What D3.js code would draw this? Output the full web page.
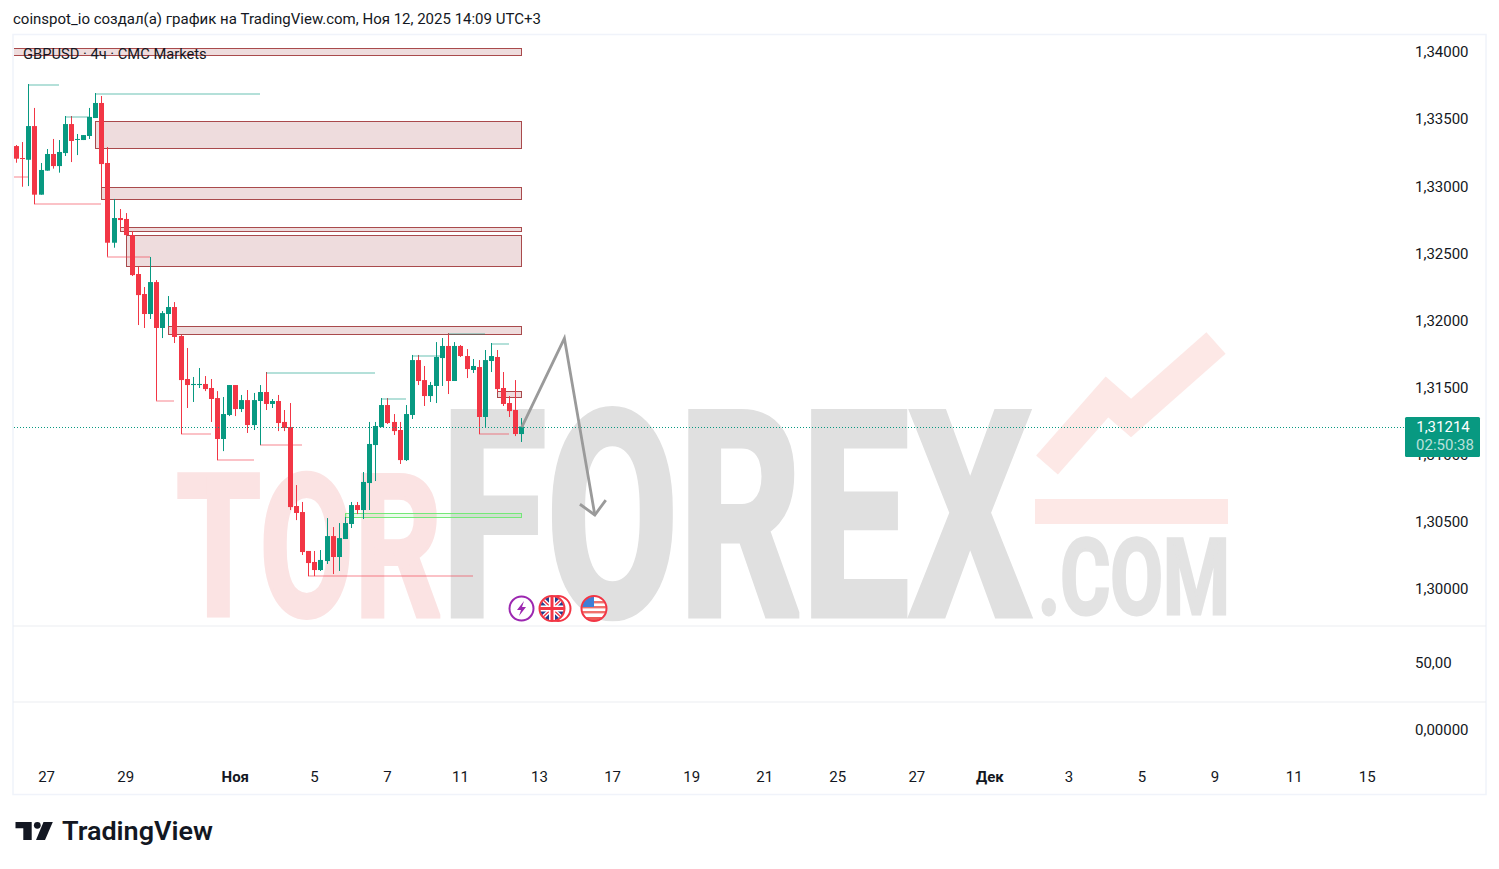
<!DOCTYPE html>
<html><head><meta charset="utf-8">
<script src="https://cdn.jsdelivr.net/npm/d3@7/dist/d3.min.js"></script>
<style>html,body{margin:0;padding:0;background:#fff}svg{display:block}text{font-family:Roboto,sans-serif}</style>
</head><body><div id="c"></div>
<script>
const opens=[1.33303,1.33214,1.33201,1.33452,1.32941,1.33120,1.33244,1.33154,1.33251,1.33467,1.33350,1.33348,1.33378,1.33512,1.33624,1.33177,1.32583,1.32767,1.32760,1.32640,1.32350,1.32201,1.32052,1.32290,1.31948,1.32052,1.32104,1.31888,1.31568,1.31523,1.31523,1.31531,1.31501,1.31426,1.31121,1.31300,1.31523,1.31344,1.31411,1.31225,1.31404,1.31471,1.31382,1.31404,1.31248,1.31210,1.30622,1.30577,1.30287,1.30205,1.30145,1.30212,1.30398,1.30242,1.30376,1.30488,1.30629,1.30592,1.30793,1.31076,1.31210,1.31374,1.31248,1.31188,1.30964,1.31300,1.31709,1.31560,1.31441,1.31516,1.31724,1.31814,1.31553,1.31814,1.31739,1.31635,1.31657,1.31285,1.31702,1.31732,1.31501,1.31389,1.31337,1.31158];
const highs=[1.33311,1.33333,1.33765,1.33587,1.33177,1.33281,1.33356,1.33348,1.33527,1.33527,1.33393,1.33385,1.33587,1.33698,1.33676,1.33296,1.32909,1.32834,1.32804,1.32670,1.32402,1.32253,1.32477,1.32305,1.32074,1.32186,1.32141,1.31896,1.31799,1.31583,1.31650,1.31590,1.31568,1.31478,1.31434,1.31523,1.31523,1.31449,1.31486,1.31464,1.31523,1.31620,1.31419,1.31449,1.31337,1.31389,1.30778,1.30652,1.30287,1.30287,1.30294,1.30532,1.30465,1.30495,1.30540,1.30652,1.30652,1.30875,1.31248,1.31248,1.31426,1.31426,1.31307,1.31248,1.31374,1.31747,1.31747,1.31665,1.31546,1.31843,1.31873,1.31910,1.31843,1.31821,1.31791,1.31717,1.31709,1.31784,1.31836,1.31784,1.31620,1.31441,1.31560,1.31277];
const lows=[1.33179,1.33000,1.33005,1.32871,1.32941,1.33120,1.33135,1.33105,1.33229,1.33184,1.33236,1.33348,1.33356,1.33512,1.32998,1.32479,1.32546,1.32678,1.32633,1.32335,1.31970,1.31948,1.32015,1.31406,1.31873,1.31963,1.31836,1.31158,1.31352,1.31397,1.31501,1.31478,1.31248,1.30964,1.31031,1.31292,1.31292,1.31322,1.31166,1.31188,1.31076,1.31337,1.31352,1.31180,1.31180,1.30592,1.30517,1.30257,1.30100,1.30100,1.30138,1.30190,1.30115,1.30138,1.30376,1.30458,1.30562,1.30525,1.30592,1.30808,1.31210,1.31233,1.31151,1.30935,1.30957,1.31270,1.31523,1.31367,1.31397,1.31389,1.31516,1.31456,1.31553,1.31732,1.31575,1.31613,1.31158,1.31203,1.31620,1.31471,1.31367,1.31285,1.31143,1.31099];
const closes=[1.33209,1.33207,1.33452,1.32941,1.33125,1.33244,1.33154,1.33259,1.33467,1.33341,1.33356,1.33385,1.33520,1.33624,1.33169,1.32583,1.32767,1.32752,1.32640,1.32342,1.32193,1.32052,1.32290,1.31948,1.32059,1.32104,1.31881,1.31560,1.31523,1.31531,1.31531,1.31493,1.31419,1.31121,1.31307,1.31523,1.31344,1.31411,1.31225,1.31411,1.31471,1.31382,1.31404,1.31240,1.31203,1.30614,1.30570,1.30279,1.30197,1.30145,1.30220,1.30398,1.30242,1.30383,1.30495,1.30629,1.30592,1.30801,1.31084,1.31218,1.31374,1.31240,1.31180,1.30964,1.31307,1.31709,1.31553,1.31441,1.31523,1.31732,1.31814,1.31553,1.31814,1.31739,1.31642,1.31665,1.31285,1.31709,1.31739,1.31493,1.31382,1.31329,1.31158,1.31214];

const priceTicks=[1.30,1.305,1.31,1.315,1.32,1.325,1.33,1.335,1.34];
const dateTickIdx=[5,18,36,49,61,73,86,98,111,123,135,148,160,173,185,197,210,222];
const dateTickLabels=["27","29","Ноя","5","7","11","13","17","19","21","25","27","Дек","3","5","9","11","15"];
const lowerTicks=[0,50];
const lowerLabels=["0,00000","50,00"];

// supply / demand zones: start candle, upper price, lower price
const zoneStart=[-3,13,14,17,18,25,79];
const zoneTop=[1.34030,1.33490,1.32998,1.32700,1.32640,1.31963,1.31478];
const zoneBottom=[1.33981,1.33289,1.32909,1.32670,1.32410,1.31903,1.31434];
const greenStart=[54];const greenTop=[1.30570];const greenBottom=[1.30540];
// liquidity lines: start candle, end candle, price
const hiStart=[2,13,8,41,60,65,71,78];
const hiEnd=[7,40,12,59,64,70,77,81];
const hiPrice=[1.33765,1.33698,1.33527,1.31620,1.31426,1.31747,1.31910,1.31836];
const loStart=[-3,3,15,23,27,33,40,48,76];
const loEnd=[2,14,22,26,32,39,47,75,81];
const loPrice=[1.33073,1.32871,1.32479,1.31406,1.31158,1.30964,1.31076,1.30100,1.31158];
// drawn arrow
const arrowIdx=[83,90,95];const arrowPrice=[1.31210,1.31871,1.30555];
const headIdx=[92.55,95,96.8];const headPrice=[1.30635,1.30555,1.30666];
const lastPrice=1.31214;

const W=1499,H=869,UP="#089981",DOWN="#f23645";
const svg=d3.select("#c").append("svg").attr("width",W).attr("height",H).attr("viewBox",`0 0 ${W} ${H}`);
const x=d3.scaleLinear().domain([0,83]).range([16.7,521.8]);
const y=d3.scaleLinear().domain([1.30,1.34]).range([589.5,52.5]);
const yLow=d3.scaleLinear().domain([0,50]).range([729.5,662.5]);
const cx=i=>Math.floor(x(i));

svg.append("text").attr("x",13).attr("y",24).attr("font-size",15).attr("fill","#131722")
  .text("coinspot_io создал(а) график на TradingView.com, Ноя 12, 2025 14:09 UTC+3");

// frame & panes
svg.append("rect").attr("x",13).attr("y",34.5).attr("width",1473).attr("height",760).attr("fill","none").attr("stroke","#f0f3fa").attr("stroke-width",1.5);
[626,702].forEach(v=>svg.append("line").attr("x1",13).attr("x2",1486).attr("y1",v).attr("y2",v).attr("stroke","#ebedf1"));

// watermark
const wm=svg.append("g").attr("font-weight",700);
const wmWord=(t,x0,base,size,len,col,sw)=>wm.append("text").attr("x",x0).attr("y",base).attr("font-size",size)
  .attr("textLength",len).attr("lengthAdjust","spacingAndGlyphs").attr("fill",col).attr("stroke",col).attr("stroke-width",sw).text(t);
wmWord("TOR",176,616,198,266,"#fbe3e3",4);
wmWord("FOREX",441,615,285,590,"#e0e0e0",7);
wmWord(".COM",1038,614,106,192,"#e3e3e3",3);
svg.append("rect").attr("x",1035).attr("y",499).attr("width",193).attr("height",25).attr("fill","#fde8e6");
svg.append("path").attr("d","M1047,465L1107,397L1131,418L1216,343").attr("fill","none").attr("stroke","#fde8e6").attr("stroke-width",29);

const defs=svg.append("defs");
defs.append("clipPath").attr("id","pane").append("rect").attr("x",14).attr("y",35).attr("width",1390).attr("height",590);
const plot=svg.append("g").attr("clip-path","url(#pane)");

// zones
const zi=d3.range(zoneStart.length);
plot.selectAll(".z").data(zi).join("rect").attr("class","z")
  .attr("x",i=>cx(zoneStart[i])+.5).attr("y",i=>Math.round(y(zoneTop[i]))+.5)
  .attr("width",i=>cx(83)-cx(zoneStart[i])).attr("height",i=>Math.round(y(zoneBottom[i]))-Math.round(y(zoneTop[i])))
  .attr("fill","rgba(150,40,45,.16)").attr("stroke","#a94a4c").attr("stroke-width",1);
plot.selectAll(".g").data(d3.range(greenStart.length)).join("rect").attr("class","g")
  .attr("x",i=>cx(greenStart[i])+.5).attr("y",i=>Math.round(y(greenTop[i]))+.5)
  .attr("width",i=>cx(83)-cx(greenStart[i])).attr("height",i=>Math.round(y(greenBottom[i]))-Math.round(y(greenTop[i])))
  .attr("fill","rgba(76,220,80,.12)").attr("stroke","#74e878").attr("stroke-width",1);

// last price line
svg.append("line").attr("x1",14).attr("x2",1405).attr("y1",Math.round(y(lastPrice))+.5).attr("y2",Math.round(y(lastPrice))+.5)
  .attr("stroke",UP).attr("stroke-width",1).attr("stroke-dasharray","1 2");

// candles
const idx=d3.range(opens.length);
const col=i=>closes[i]>=opens[i]?UP:DOWN;
plot.selectAll(".w").data(idx).join("rect").attr("class","w")
  .attr("x",i=>cx(i)).attr("width",1).attr("y",i=>y(highs[i])).attr("height",i=>y(lows[i])-y(highs[i])).attr("fill",col);
plot.selectAll(".b").data(idx).join("rect").attr("class","b")
  .attr("x",i=>cx(i)-2).attr("width",5)
  .attr("y",i=>y(Math.max(opens[i],closes[i])))
  .attr("height",i=>Math.max(1,Math.abs(y(opens[i])-y(closes[i])))).attr("fill",col);

// liquidity lines
plot.selectAll(".hi").data(d3.range(hiStart.length)).join("rect").attr("class","hi")
  .attr("x",i=>cx(hiStart[i])).attr("width",i=>cx(hiEnd[i])-cx(hiStart[i])).attr("y",i=>Math.round(y(hiPrice[i]))).attr("height",2)
  .attr("fill",UP).attr("opacity",.3);
plot.selectAll(".lo").data(d3.range(loStart.length)).join("rect").attr("class","lo")
  .attr("x",i=>cx(loStart[i])).attr("width",i=>cx(loEnd[i])-cx(loStart[i])).attr("y",i=>Math.round(y(loPrice[i]))-1).attr("height",2)
  .attr("fill",DOWN).attr("opacity",.3);

// arrow
const ln=d3.line().x(d=>d[0]).y(d=>d[1]);
const arrowPts=arrowIdx.map((v,i)=>[x(v),y(arrowPrice[i])]);
const headPts=headIdx.map((v,i)=>[x(v),y(headPrice[i])]);
[arrowPts,headPts].forEach(p=>svg.append("path").attr("d",ln(p)).attr("fill","none").attr("stroke","#9a9a9a").attr("stroke-width",2.8).attr("stroke-linejoin","miter"));

// legend
svg.append("text").attr("x",23).attr("y",59).attr("font-size",14.7).attr("fill","#131722").text("GBPUSD · 4ч · CMC Markets");

// axes
const pa=svg.append("g").attr("transform","translate(1415,-0.5)")
  .call(d3.axisRight(y).tickValues(priceTicks).tickSize(0).tickPadding(0).tickFormat(d=>d.toFixed(5).replace(".",",")));
const la=svg.append("g").attr("transform","translate(1415,0)")
  .call(d3.axisRight(yLow).tickValues(lowerTicks).tickSize(0).tickPadding(0).tickFormat((d,i)=>lowerLabels[i]));
const da=svg.append("g").attr("transform","translate(-1,768)")
  .call(d3.axisBottom(x).tickValues(dateTickIdx).tickSize(0).tickPadding(3).tickFormat((d,i)=>dateTickLabels[i]));
[pa,la,da].forEach(g=>{g.select(".domain").remove();
  g.selectAll("text").attr("font-family","Roboto,sans-serif").attr("font-size",15).attr("fill","#131722");});
da.selectAll("text").attr("font-weight",(d,i)=>/[А-Я]/.test(dateTickLabels[i])?700:400);

// price tag
const tag=svg.append("g");
tag.append("rect").attr("x",1405).attr("y",417).attr("width",75).attr("height",40).attr("rx",1.5).attr("fill",UP);
tag.append("text").attr("x",1443).attr("y",432).attr("text-anchor","middle").attr("font-size",15).attr("fill","#fff").text(lastPrice.toFixed(5).replace(".",","));
tag.append("text").attr("x",1445).attr("y",450).attr("text-anchor","middle").attr("font-size",15).attr("fill","rgba(255,255,255,.72)").text("02:50:38");

// event icons
const ic=svg.append("g");
const RED="#f23645";
ic.append("circle").attr("cx",521.5).attr("cy",608.5).attr("r",12).attr("fill","#fff").attr("stroke","#9c27b0").attr("stroke-width",2);
ic.append("path").attr("d","M524,601L517,610H521L519,616L526,607H522Z").attr("fill","#9c27b0");
defs.append("clipPath").attr("id","uk").append("circle").attr("cx",552).attr("cy",608.5).attr("r",12);
defs.append("clipPath").attr("id","us").append("circle").attr("cx",594).attr("cy",608.5).attr("r",12);
ic.append("circle").attr("cx",558).attr("cy",608.5).attr("r",12.5).attr("fill","#fff").attr("stroke",RED).attr("stroke-width",2);
const ukg=ic.append("g").attr("clip-path","url(#uk)");
ukg.append("rect").attr("x",539).attr("y",596).attr("width",26).attr("height",26).attr("fill","#23408f");
ukg.append("path").attr("d","M540,597L564,620M564,597L540,620").attr("stroke","#fff").attr("stroke-width",4);
ukg.append("path").attr("d","M540,597L564,620M564,597L540,620").attr("stroke",RED).attr("stroke-width",1.3);
ukg.append("path").attr("d","M552,596V621M539,608.5H565").attr("stroke","#fff").attr("stroke-width",6);
ukg.append("path").attr("d","M552,596V621M539,608.5H565").attr("stroke",RED).attr("stroke-width",3);
ic.append("circle").attr("cx",552).attr("cy",608.5).attr("r",12.5).attr("fill","none").attr("stroke",RED).attr("stroke-width",2);
const usg=ic.append("g").attr("clip-path","url(#us)");
usg.append("rect").attr("x",581).attr("y",596).attr("width",26).attr("height",26).attr("fill","#fff");
[601,606,611,616].forEach((v,i)=>usg.append("rect").attr("x",581).attr("y",v+(i==3?1:0)).attr("width",26).attr("height",i==3?6:2.4).attr("fill",i==3?"#ee5a55":"#f0726c"));
usg.append("rect").attr("x",582).attr("y",596).attr("width",12).attr("height",11).attr("fill","#3f7fd6");
ic.append("circle").attr("cx",594).attr("cy",608.5).attr("r",12.5).attr("fill","none").attr("stroke",RED).attr("stroke-width",2);

// logo
const lg=svg.append("g").attr("fill","#131722");
lg.append("path").attr("d","M15.5,822H31.7V840H23.3V828.3H15.5Z");
lg.append("circle").attr("cx",37.3).attr("cy",825.3).attr("r",3.4);
lg.append("path").attr("d","M43.5,822H52.8L45,840H36Z");
svg.append("text").attr("x",62).attr("y",840).attr("font-size",25.5).attr("font-weight",600).attr("font-family","Inter,Roboto,sans-serif").attr("textLength",151).attr("lengthAdjust","spacingAndGlyphs").attr("fill","#131722").text("TradingView");
</script></body></html>
